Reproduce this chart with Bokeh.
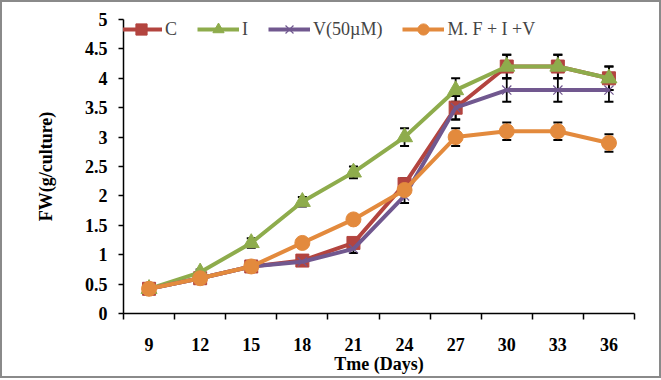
from bokeh.plotting import figure
from bokeh.models import (ColumnDataSource, Range1d, FixedTicker, NumeralTickFormatter,
                          Whisker, TeeHead, Legend, LegendItem)
from bokeh.embed import file_html
from bokeh.resources import INLINE

days = [9, 12, 15, 18, 21, 24, 27, 30, 33, 36]
c_vals = [0.42, 0.60, 0.80, 0.90, 1.20, 2.20, 3.50, 4.20, 4.20, 4.00]
i_vals = [0.42, 0.70, 1.20, 1.90, 2.40, 3.00, 3.80, 4.20, 4.20, 4.00]
v_vals = [0.42, 0.60, 0.80, 0.88, 1.10, 2.00, 3.50, 3.80, 3.80, 3.80]
m_vals = [0.42, 0.60, 0.80, 1.20, 1.60, 2.10, 3.00, 3.10, 3.10, 2.90]
c_err = [0, 0, 0, 0, 0, 0.10, 0.20, 0.20, 0.20, 0.20]
i_err = [0, 0.05, 0.08, 0.08, 0.10, 0.15, 0.20, 0.20, 0.20, 0.20]
v_err = [0, 0, 0, 0, 0.07, 0.12, 0.20, 0.20, 0.20, 0.20]
m_err = [0, 0, 0, 0, 0, 0, 0.15, 0.15, 0.15, 0.15]
labels = ["C", "I", "V(50\u00b5M)", "M. F + I +V"]
y_ticks = [0, 0.5, 1, 1.5, 2, 2.5, 3, 3.5, 4, 4.5, 5]

colors = ["#B3443F", "#8EAC4C", "#71588F", "#E38A3D"]
FONT = "Liberation Serif"

p = figure(width=657, height=374, output_backend="svg", toolbar_location=None,
           x_range=Range1d(7.5, 37.5), y_range=Range1d(0, 5),
           min_border_left=121, min_border_right=25, min_border_top=17, min_border_bottom=62)
# outer gray frame of the chart
p.styles = {"margin": "2px", "outline": "2px solid #8a8a8a"}
p.outline_line_color = None
p.xgrid.grid_line_color = None
p.ygrid.grid_line_color = None

# x axis: labels at days, tick marks between days
step = days[1] - days[0]
p.xaxis.ticker = FixedTicker(ticks=days,
                             minor_ticks=[d - step / 2 for d in days] + [days[-1] + step / 2])
p.xaxis.major_tick_out = 0
p.xaxis.major_tick_in = 0
p.xaxis.minor_tick_out = 6
p.xaxis.minor_tick_in = 0
p.xaxis.minor_tick_line_color = "black"
p.xaxis.major_label_standoff = 18
p.xaxis.axis_label = "Tme (Days)"
p.xaxis.axis_label_standoff = 0

p.yaxis.ticker = FixedTicker(ticks=y_ticks, minor_ticks=[])
p.yaxis.formatter = NumeralTickFormatter(format="0.[0]")
p.yaxis.major_tick_out = 5
p.yaxis.major_tick_in = 0
p.yaxis.major_label_standoff = 11
p.yaxis.axis_label = "FW(g/culture)"
p.yaxis.axis_label_standoff = 26

for ax in (p.xaxis, p.yaxis):
    ax.axis_line_color = "black"
    ax.axis_line_width = 1.5
    ax.major_tick_line_color = "black"
    ax.major_tick_line_width = 1.5
    ax.minor_tick_line_width = 1.5
    ax.major_label_text_font = FONT
    ax.major_label_text_font_style = "bold"
    ax.major_label_text_font_size = "18px"
    ax.major_label_text_color = "black"
    ax.axis_label_text_font = FONT
    ax.axis_label_text_font_style = "bold"
    ax.axis_label_text_font_size = "18px"
    ax.axis_label_text_color = "black"

series = [c_vals, i_vals, v_vals, m_vals]
errs = [c_err, i_err, v_err, m_err]
items = []
for k, (vals, col, lab) in enumerate(zip(series, colors, labels)):
    src = ColumnDataSource(dict(x=days, y=vals))
    ln = p.line("x", "y", source=src, line_color=col, line_width=4)
    if k == 0:
        mk = p.scatter("x", "y", source=src, marker="square", size=13,
                       fill_color=col, line_color=col)
    elif k == 1:
        mk = p.scatter("x", "y", source=src, marker="triangle", size=16,
                       fill_color=col, line_color=col)
    elif k == 2:
        mk = p.scatter("x", "y", source=src, marker="x", size=13,
                       line_color=col, line_width=1.2)
    else:
        mk = p.scatter("x", "y", source=src, marker="circle", size=15,
                       fill_color=col, line_color=col)
    items.append(LegendItem(label=lab, renderers=[ln, mk]))

for vals, err in zip(series, errs):
    xs = [d for d, e in zip(days, err) if e > 0]
    lo = [v - e for v, e in zip(vals, err) if e > 0]
    hi = [v + e for v, e in zip(vals, err) if e > 0]
    wsrc = ColumnDataSource(dict(x=xs, lo=lo, hi=hi))
    w = Whisker(source=wsrc, base="x", lower="lo", upper="hi", line_color="black",
                line_width=1.8,
                upper_head=TeeHead(size=9, line_color="black", line_width=2),
                lower_head=TeeHead(size=9, line_color="black", line_width=2))
    p.add_layout(w)

legend = Legend(items=items, orientation="horizontal", location=(-3, 270),
                glyph_width=42, glyph_height=28, label_height=28, label_width=1,
                label_standoff=3, spacing=20, padding=0, margin=0,
                label_text_font=FONT, label_text_font_size="18px",
                background_fill_alpha=0, border_line_color=None)
p.add_layout(legend)

open("out.html", "w").write(file_html(p, INLINE))
